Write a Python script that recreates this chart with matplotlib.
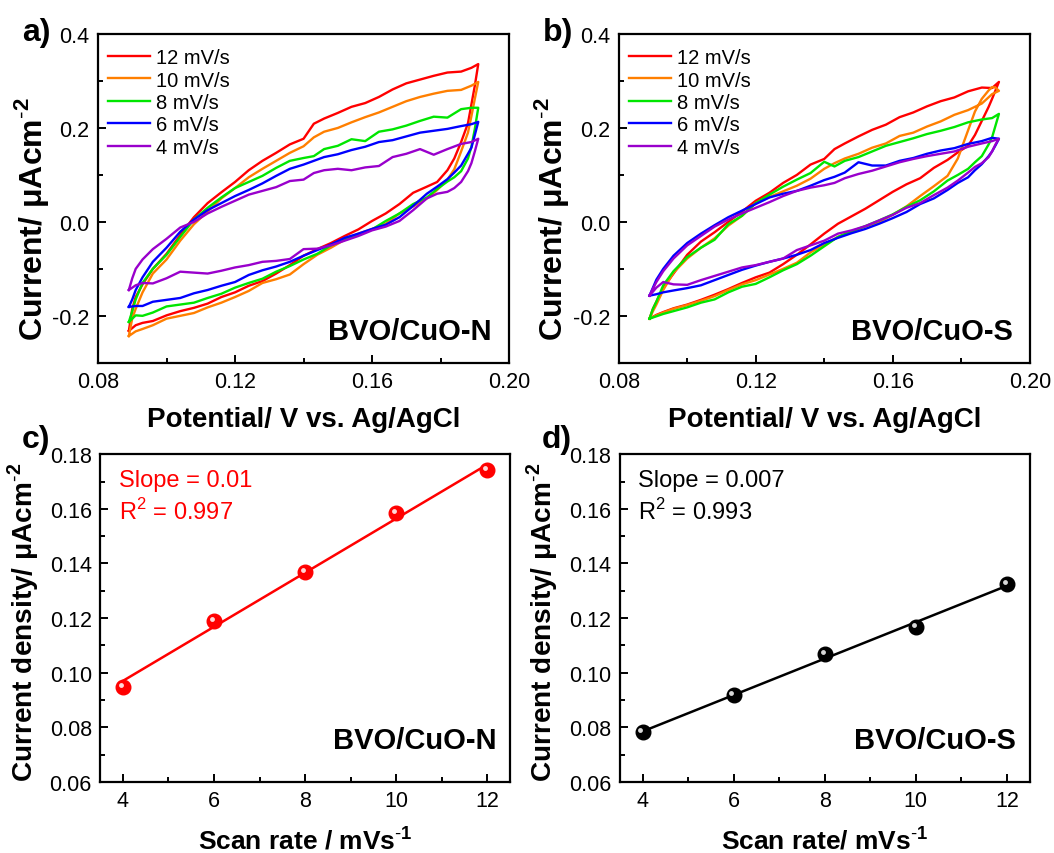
import numpy as np
import matplotlib
matplotlib.use("Agg")
from matplotlib import pyplot as plt
from matplotlib.ticker import MultipleLocator
from matplotlib.transforms import offset_copy

plt.rcParams['font.family'] = ['Liberation Sans', 'DejaVu Sans']
plt.rcParams['mathtext.fontset'] = 'custom'
plt.rcParams['mathtext.rm'] = 'Liberation Sans'
plt.rcParams['mathtext.bf'] = 'Liberation Sans:bold'

"""#Data"""

# potential grid of the forward (anodic) and reverse scan
x_fwd = [0.089, 0.090, 0.091, 0.093, 0.096, 0.100, 0.104, 0.108, 0.112, 0.116,
         0.120, 0.124, 0.128, 0.132, 0.136, 0.140, 0.143, 0.146, 0.150, 0.154,
         0.158, 0.162, 0.166, 0.170, 0.174, 0.178, 0.182, 0.186, 0.189, 0.191]
x_rev = [0.191, 0.190, 0.189, 0.188, 0.186, 0.184, 0.182, 0.179, 0.176, 0.172,
         0.168, 0.164, 0.160, 0.156, 0.152, 0.148, 0.144, 0.140, 0.136, 0.132,
         0.128, 0.124, 0.120, 0.116, 0.112, 0.108, 0.104, 0.100, 0.096, 0.093,
         0.091, 0.089]

rates = ['12 mV/s', '10 mV/s', '8 mV/s', '6 mV/s', '4 mV/s']
colors = ['#FF0000', '#FF7F00', '#00E600', '#0000FF', '#9900CC']

# BVO/CuO-N
n_fwd_12 = [-0.232, -0.185, -0.160, -0.133, -0.100, -0.068, -0.028, 0.010, 0.040, 0.063,
            0.085, 0.110, 0.130, 0.147, 0.165, 0.177, 0.209, 0.220, 0.232, 0.245,
            0.253, 0.266, 0.282, 0.295, 0.303, 0.311, 0.318, 0.320, 0.328, 0.336]
n_rev_12 = [0.336, 0.290, 0.250, 0.210, 0.170, 0.135, 0.110, 0.085, 0.075, 0.062,
            0.038, 0.018, 0.002, -0.016, -0.030, -0.045, -0.058, -0.072, -0.092, -0.110,
            -0.126, -0.136, -0.150, -0.160, -0.174, -0.183, -0.190, -0.199, -0.211, -0.215,
            -0.220, -0.232]
n_fwd_10 = [-0.243, -0.205, -0.185, -0.150, -0.110, -0.080, -0.040, -0.005, 0.022, 0.050,
            0.072, 0.095, 0.113, 0.130, 0.147, 0.161, 0.180, 0.192, 0.200, 0.212,
            0.223, 0.233, 0.245, 0.257, 0.266, 0.273, 0.279, 0.281, 0.290, 0.298]
n_rev_10 = [0.298, 0.262, 0.225, 0.190, 0.150, 0.112, 0.090, 0.068, 0.050, 0.033,
            0.018, -0.004, -0.015, -0.025, -0.038, -0.055, -0.070, -0.090, -0.112, -0.122,
            -0.130, -0.147, -0.160, -0.172, -0.182, -0.194, -0.200, -0.206, -0.220, -0.228,
            -0.233, -0.243]
n_fwd_8 = [-0.213, -0.190, -0.165, -0.130, -0.100, -0.070, -0.032, 0.005, 0.030, 0.052,
           0.072, 0.085, 0.098, 0.115, 0.130, 0.136, 0.140, 0.155, 0.162, 0.176,
           0.172, 0.192, 0.197, 0.205, 0.215, 0.224, 0.222, 0.240, 0.243, 0.243]
n_rev_8 = [0.243, 0.198, 0.160, 0.135, 0.108, 0.095, 0.086, 0.070, 0.052, 0.038,
           0.018, 0.002, -0.016, -0.028, -0.038, -0.050, -0.068, -0.080, -0.094, -0.106,
           -0.121, -0.130, -0.140, -0.153, -0.162, -0.172, -0.176, -0.180, -0.193, -0.200,
           -0.199, -0.213]
n_fwd_6 = [-0.181, -0.165, -0.145, -0.118, -0.085, -0.055, -0.021, 0.005, 0.025, 0.040,
           0.055, 0.068, 0.082, 0.098, 0.113, 0.122, 0.130, 0.138, 0.144, 0.153,
           0.160, 0.170, 0.174, 0.182, 0.190, 0.194, 0.198, 0.204, 0.208, 0.213]
n_rev_6 = [0.213, 0.185, 0.158, 0.145, 0.120, 0.105, 0.091, 0.075, 0.060, 0.034,
           0.010, -0.006, -0.015, -0.025, -0.034, -0.048, -0.060, -0.072, -0.085, -0.095,
           -0.103, -0.113, -0.128, -0.136, -0.145, -0.152, -0.162, -0.166, -0.170, -0.179,
           -0.179, -0.181]
n_fwd_4 = [-0.145, -0.120, -0.100, -0.080, -0.058, -0.036, -0.012, 0.000, 0.018, 0.032,
           0.045, 0.058, 0.066, 0.074, 0.087, 0.090, 0.104, 0.110, 0.113, 0.110,
           0.116, 0.119, 0.138, 0.145, 0.155, 0.143, 0.155, 0.166, 0.170, 0.177]
n_rev_4 = [0.177, 0.150, 0.125, 0.108, 0.085, 0.072, 0.064, 0.060, 0.050, 0.025,
           0.002, -0.010, -0.018, -0.030, -0.040, -0.050, -0.057, -0.058, -0.079, -0.083,
           -0.085, -0.092, -0.097, -0.104, -0.110, -0.108, -0.106, -0.120, -0.131, -0.130,
           -0.135, -0.145]

# BVO/CuO-S
s_fwd_12 = [-0.206, -0.185, -0.170, -0.140, -0.110, -0.070, -0.042, -0.022, 0.000, 0.022,
            0.045, 0.062, 0.083, 0.100, 0.122, 0.134, 0.155, 0.167, 0.182, 0.196,
            0.207, 0.223, 0.233, 0.246, 0.257, 0.265, 0.278, 0.286, 0.285, 0.298]
s_rev_12 = [0.298, 0.280, 0.262, 0.245, 0.215, 0.185, 0.162, 0.148, 0.132, 0.115,
            0.093, 0.080, 0.064, 0.046, 0.028, 0.012, -0.004, -0.025, -0.048, -0.070,
            -0.090, -0.108, -0.118, -0.130, -0.143, -0.155, -0.166, -0.176, -0.184, -0.192,
            -0.198, -0.206]
s_fwd_10 = [-0.206, -0.190, -0.176, -0.145, -0.108, -0.078, -0.055, -0.035, -0.008, 0.013,
            0.040, 0.053, 0.065, 0.077, 0.092, 0.113, 0.125, 0.135, 0.145, 0.158,
            0.167, 0.183, 0.190, 0.203, 0.214, 0.228, 0.238, 0.252, 0.272, 0.279]
s_rev_10 = [0.279, 0.286, 0.287, 0.280, 0.262, 0.235, 0.195, 0.135, 0.098, 0.076,
            0.055, 0.033, 0.015, 0.000, -0.010, -0.020, -0.032, -0.048, -0.065, -0.087,
            -0.100, -0.112, -0.124, -0.133, -0.145, -0.158, -0.168, -0.177, -0.185, -0.193,
            -0.199, -0.206]
s_fwd_8 = [-0.206, -0.185, -0.170, -0.135, -0.105, -0.075, -0.055, -0.038, -0.005, 0.013,
           0.040, 0.058, 0.075, 0.090, 0.104, 0.128, 0.118, 0.130, 0.138, 0.150,
           0.162, 0.170, 0.178, 0.187, 0.194, 0.202, 0.212, 0.218, 0.221, 0.230]
s_rev_8 = [0.230, 0.205, 0.180, 0.165, 0.140, 0.127, 0.113, 0.100, 0.088, 0.065,
           0.046, 0.032, 0.016, 0.003, -0.009, -0.020, -0.032, -0.052, -0.072, -0.090,
           -0.103, -0.118, -0.132, -0.138, -0.150, -0.165, -0.172, -0.182, -0.190, -0.196,
           -0.201, -0.206]
s_fwd_6 = [-0.157, -0.140, -0.123, -0.100, -0.072, -0.045, -0.025, -0.007, 0.010, 0.024,
           0.038, 0.052, 0.060, 0.066, 0.077, 0.089, 0.096, 0.105, 0.127, 0.120,
           0.120, 0.130, 0.136, 0.145, 0.152, 0.157, 0.166, 0.172, 0.179, 0.177]
s_rev_6 = [0.177, 0.163, 0.150, 0.140, 0.123, 0.110, 0.095, 0.083, 0.068, 0.050,
           0.038, 0.021, 0.008, -0.004, -0.015, -0.024, -0.034, -0.045, -0.060, -0.070,
           -0.078, -0.085, -0.093, -0.102, -0.113, -0.124, -0.135, -0.141, -0.146, -0.150,
           -0.154, -0.157]
s_fwd_4 = [-0.157, -0.142, -0.128, -0.105, -0.078, -0.050, -0.030, -0.010, 0.005, 0.018,
           0.030, 0.042, 0.055, 0.066, 0.073, 0.078, 0.083, 0.093, 0.102, 0.109,
           0.118, 0.127, 0.134, 0.140, 0.145, 0.150, 0.160, 0.167, 0.172, 0.177]
s_rev_4 = [0.177, 0.165, 0.150, 0.138, 0.125, 0.117, 0.105, 0.088, 0.073, 0.057,
           0.040, 0.030, 0.015, 0.003, -0.009, -0.018, -0.025, -0.040, -0.050, -0.060,
           -0.078, -0.085, -0.092, -0.097, -0.106, -0.115, -0.124, -0.134, -0.133, -0.128,
           -0.140, -0.157]

n_loops = [(n_fwd_12, n_rev_12), (n_fwd_10, n_rev_10), (n_fwd_8, n_rev_8),
           (n_fwd_6, n_rev_6), (n_fwd_4, n_rev_4)]
s_loops = [(s_fwd_12, s_rev_12), (s_fwd_10, s_rev_10), (s_fwd_8, s_rev_8),
           (s_fwd_6, s_rev_6), (s_fwd_4, s_rev_4)]

# capacitive current vs scan rate
scan_rate = [4, 6, 8, 10, 12]
j_n = [0.0948, 0.1190, 0.1369, 0.1584, 0.1741]
j_s = [0.0783, 0.0917, 0.1068, 0.1168, 0.1324]

"""#Plot"""

fig = plt.figure(figsize=(10.54, 8.54), dpi=100)
ax_a = fig.add_axes([0.093, 0.574, 0.390, 0.385])
ax_b = fig.add_axes([0.587, 0.574, 0.390, 0.385])
ax_c = fig.add_axes([0.095, 0.083, 0.389, 0.384])
ax_d = fig.add_axes([0.588, 0.083, 0.389, 0.384])

sup2 = '$^{\\mathbf{\\text{-}2}}$'
sup1 = '$^{\\mathbf{\\text{-}1}}$'


def style(ax):
    for sp in ax.spines.values():
        sp.set_linewidth(1.6)
    ax.tick_params(which='both', direction='in', top=False, right=False,
                   width=1.4, labelsize=15.5, pad=6)
    ax.tick_params(which='major', length=6)
    ax.tick_params(which='minor', length=3.5)


def cv_panel(ax, loops, name, letter):
    for (yf, yr), c, lab in zip(loops, colors, rates):
        ax.plot(x_fwd + x_rev, yf + yr, color=c, lw=1.7, label=lab)
    ax.set_xlim(0.08, 0.20)
    ax.set_ylim(-0.3, 0.4)
    ax.xaxis.set_major_locator(MultipleLocator(0.04))
    ax.xaxis.set_minor_locator(MultipleLocator(0.02))
    ax.yaxis.set_major_locator(MultipleLocator(0.2))
    ax.yaxis.set_minor_locator(MultipleLocator(0.1))
    ax.xaxis.set_major_formatter(plt.FuncFormatter(lambda v, p: f'{v:.2f}'))
    ax.yaxis.set_major_formatter(plt.FuncFormatter(lambda v, p: f'{v:.1f}'))
    style(ax)
    ax.set_xlabel('Potential/ V vs. Ag/AgCl', fontsize=20, fontweight='bold')
    ax.set_ylabel('Current/ μAcm' + sup2, fontsize=23, fontweight='bold')
    ax.xaxis.set_label_coords(0.5, -0.13)
    ax.yaxis.set_label_coords(-0.115, 0.44)
    ax.legend(loc='upper left', bbox_to_anchor=(-0.01, 1.0), frameon=False,
              fontsize=14.5, handlelength=2.1, handletextpad=0.3, labelspacing=0.17,
              borderaxespad=0.3)
    ax.text(0.958, 0.055, name, transform=ax.transAxes, ha='right', va='bottom',
            fontsize=21, fontweight='bold')
    ax.text(-0.185, 1.005, letter, transform=ax.transAxes, ha='left', va='center',
            fontsize=23, fontweight='bold')


def rate_panel(ax, j, color, slope_txt, r2_txt, name, letter):
    k, b = np.polyfit(scan_rate, j, 1)
    xs = np.array([scan_rate[0], scan_rate[-1]])
    ax.plot(xs, k * xs + b, color=color, lw=1.8, zorder=2)
    ax.plot(scan_rate, j, 'o', ms=10.5, color=color, mec=color, zorder=3)
    hl = offset_copy(ax.transData, fig=fig, x=-1.6, y=1.6, units='points')
    ax.plot(scan_rate, j, 'o', ms=3.5, color='white', mec='none', alpha=0.85,
            transform=hl, zorder=4)
    ax.set_xlim(3.5, 12.5)
    ax.set_ylim(0.06, 0.18)
    ax.xaxis.set_major_locator(MultipleLocator(2))
    ax.xaxis.set_minor_locator(MultipleLocator(1))
    ax.yaxis.set_major_locator(MultipleLocator(0.02))
    ax.yaxis.set_minor_locator(MultipleLocator(0.01))
    ax.yaxis.set_major_formatter(plt.FuncFormatter(lambda v, p: f'{v:.2f}'))
    style(ax)
    ax.set_ylabel('Current density/ μAcm' + sup2, fontsize=20.2, fontweight='bold')
    ax.yaxis.set_label_coords(-0.145, 0.49)
    ax.xaxis.set_label_coords(0.5, -0.13)
    ax.text(0.045, 0.955, slope_txt, transform=ax.transAxes, ha='left', va='top',
            fontsize=17, color=color)
    ax.text(0.045, 0.865, r2_txt, transform=ax.transAxes, ha='left', va='top',
            fontsize=17, color=color)
    ax.text(0.966, 0.085, name, transform=ax.transAxes, ha='right', va='bottom',
            fontsize=21, fontweight='bold')
    ax.text(-0.19, 1.045, letter, transform=ax.transAxes, ha='left', va='center',
            fontsize=23, fontweight='bold')


cv_panel(ax_a, n_loops, 'BVO/CuO-N', 'a)')
cv_panel(ax_b, s_loops, 'BVO/CuO-S', 'b)')

rate_panel(ax_c, j_n, '#FF0000', 'Slope = 0.01', 'R$^2$ = 0.997', 'BVO/CuO-N', 'c)')
ax_c.set_xlabel('Scan rate / mVs' + sup1, fontsize=19, fontweight='bold')
rate_panel(ax_d, j_s, '#000000', 'Slope = 0.007', 'R$^2$ = 0.993', 'BVO/CuO-S', 'd)')
ax_d.set_xlabel('Scan rate/ mVs' + sup1, fontsize=19, fontweight='bold')

plt.savefig('out.png', dpi=100)
